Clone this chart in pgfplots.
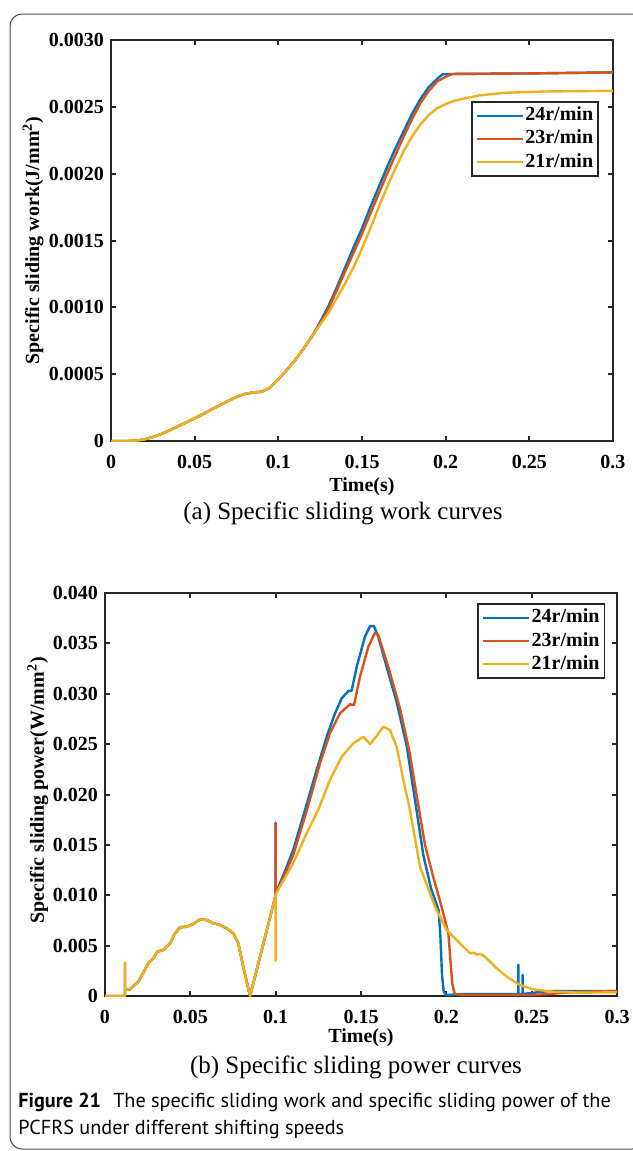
\documentclass[border=0pt]{standalone}
\usepackage{fontspec}
\setmainfont{Liberation Serif}
\newfontfamily\capfont{PT Sans}
\usepackage{pgfplots}
\pgfplotsset{compat=1.18}

\definecolor{c1}{RGB}{0,114,189}
\definecolor{c2}{RGB}{217,83,25}
\definecolor{c3}{RGB}{237,177,32}
\definecolor{axc}{RGB}{38,38,38}

\pgfplotsset{
  myax/.style={
    scale only axis,
    xmin=0, xmax=0.3,
    xtick={0,0.05,0.1,0.15,0.2,0.25,0.3},
    xticklabels={0,0.05,0.1,0.15,0.2,0.25,0.3},
    scaled y ticks=false,
    tick align=inside,
    major tick length=2.5pt,
    axis line style={line width=1pt, color=axc},
    major tick style={line width=1pt, color=axc},
    tick label style={font=\bfseries\fontsize{10}{12}\selectfont, text=black},
    xticklabel style={yshift=-3.5pt},
    xlabel={Time(s)},
    legend cell align=left,
    legend image code/.code={\draw[line width=1.2pt] (0pt,0pt) -- (23pt,0pt);},
    legend style={draw=axc, line width=0.8pt, font=\bfseries\fontsize{10}{12}\selectfont,
      anchor=north east, inner xsep=2pt, inner ysep=2pt, row sep=1.6pt,
      nodes={inner sep=0.5pt, text height=7pt, text depth=2pt}},
    every axis plot/.append style={line width=1.2pt, line join=round},
  }
}

\begin{document}
\begin{tikzpicture}
\useasboundingbox (0,0) rectangle (316pt,-575.5pt);
\draw[rounded corners=6pt, line width=0.5pt, color=black!70] (5pt,-7pt) rectangle (322pt,-574.5pt);

% (a) specific sliding work
\begin{axis}[myax,
  at={(55.5pt,-220.5pt)}, anchor=south west,
  width=251pt, height=200.5pt,
  ymin=0, ymax=0.003,
  ytick={0,0.0005,0.001,0.0015,0.002,0.0025,0.003},
  yticklabels={0,0.0005,0.0010,0.0015,0.0020,0.0025,0.0030},
  ylabel={Specific sliding work(J/mm\textsuperscript{2})},
  every axis y label/.style={at={(axis description cs:-0.155,0.5)}, rotate=90, anchor=center,
    font=\bfseries\fontsize{10}{12}\selectfont},
  every axis x label/.style={at={(axis description cs:0.5,-0.115)}, anchor=center,
    font=\bfseries\fontsize{10}{12}\selectfont},
  legend style={at={(0.972,0.848)}},
]
\addplot[c1] coordinates {
(0,0) (0.010,0) (0.015,0.000003) (0.020,0.000012) (0.025,0.00003) (0.030,0.000052)
(0.035,0.00008) (0.040,0.00011) (0.045,0.00014) (0.050,0.00017) (0.055,0.000202)
(0.060,0.000235) (0.065,0.000268) (0.070,0.0003) (0.075,0.00033) (0.080,0.000352)
(0.085,0.000364) (0.090,0.000368) (0.095,0.0004) (0.100,0.000462) (0.105,0.00053)
(0.110,0.000605) (0.115,0.00069) (0.120,0.00078)
(0.125,0.00089) (0.130,0.00101) (0.135,0.00115) (0.140,0.0013) (0.145,0.00145)
(0.150,0.00159) (0.155,0.00175) (0.160,0.0019) (0.165,0.00205) (0.170,0.00219)
(0.175,0.00232) (0.180,0.00245) (0.185,0.00256) (0.190,0.00265) (0.195,0.00271)
(0.198,0.002743) (0.205,0.002746) (0.250,0.00275) (0.300,0.002758)
};
\addlegendentry{24r/min}
\addplot[c2] coordinates {
(0,0) (0.010,0) (0.015,0.000003) (0.020,0.000012) (0.025,0.00003) (0.030,0.000052)
(0.035,0.00008) (0.040,0.00011) (0.045,0.00014) (0.050,0.00017) (0.055,0.000202)
(0.060,0.000235) (0.065,0.000268) (0.070,0.0003) (0.075,0.00033) (0.080,0.000352)
(0.085,0.000364) (0.090,0.000368) (0.095,0.0004) (0.100,0.000462) (0.105,0.00053)
(0.110,0.000605) (0.115,0.00069) (0.120,0.00078)
(0.125,0.00088) (0.130,0.00099) (0.135,0.00113) (0.140,0.00127) (0.145,0.00141)
(0.150,0.00155) (0.155,0.0017) (0.160,0.00185) (0.165,0.002) (0.170,0.00214)
(0.175,0.00228) (0.180,0.00241) (0.185,0.00253) (0.190,0.00262) (0.195,0.00269)
(0.200,0.002725) (0.204,0.002746) (0.250,0.00275) (0.300,0.002758)
};
\addlegendentry{23r/min}
\addplot[c3] coordinates {
(0,0) (0.010,0) (0.015,0.000003) (0.020,0.000012) (0.025,0.00003) (0.030,0.000052)
(0.035,0.00008) (0.040,0.00011) (0.045,0.00014) (0.050,0.00017) (0.055,0.000202)
(0.060,0.000235) (0.065,0.000268) (0.070,0.0003) (0.075,0.00033) (0.080,0.000352)
(0.085,0.000364) (0.090,0.000368) (0.095,0.0004) (0.100,0.000462) (0.105,0.00053)
(0.110,0.000605) (0.115,0.00069) (0.120,0.00078)
(0.125,0.00087) (0.130,0.00096) (0.135,0.00107) (0.140,0.00118) (0.145,0.0013)
(0.150,0.00144) (0.155,0.00159) (0.160,0.00175) (0.165,0.0019) (0.170,0.00204)
(0.175,0.00217) (0.180,0.00228) (0.185,0.00237) (0.190,0.00244) (0.195,0.00249)
(0.200,0.00252) (0.205,0.002545) (0.210,0.00256) (0.220,0.002585) (0.235,0.002605)
(0.260,0.002615) (0.300,0.00262)
};
\addlegendentry{21r/min}
\end{axis}
\node[font=\fontsize{12.5}{15}\selectfont] at (171.5pt,-256.5pt) {(a) Specific sliding work curves};

% (b) specific sliding power
\begin{axis}[myax,
  at={(52.5pt,-498pt)}, anchor=south west,
  width=256pt, height=201.5pt,
  ymin=0, ymax=0.04,
  ytick={0,0.005,0.01,0.015,0.02,0.025,0.03,0.035,0.04},
  yticklabels={0,0.005,0.010,0.015,0.020,0.025,0.030,0.035,0.040},
  ylabel={Specific sliding power(W/mm\textsuperscript{2})},
  every axis y label/.style={at={(axis description cs:-0.131,0.51)}, rotate=90, anchor=center,
    font=\bfseries\fontsize{10}{12}\selectfont},
  every axis x label/.style={at={(axis description cs:0.5,-0.104)}, anchor=center,
    font=\bfseries\fontsize{10}{12}\selectfont},
  legend style={at={(0.977,0.975)}},
]
\addplot[c1] coordinates {
(0,0) (0.0117,0) (0.0117,0.0033) (0.0117,0.0006) (0.0146,0.00066) (0.0195,0.00142)
(0.0254,0.00324) (0.0283,0.00374) (0.0307,0.0044) (0.0342,0.00457) (0.0381,0.00523)
(0.041,0.00622) (0.044,0.00682) (0.0479,0.00688) (0.0518,0.00715) (0.0557,0.00761)
(0.0596,0.00754) (0.0635,0.00722) (0.0674,0.00705) (0.0713,0.00672) (0.0752,0.00622)
(0.0781,0.00523) (0.081,0.00291) (0.085,0) (0.1,0.0100)
(0.1,0.0172) (0.1,0.0102) (0.105,0.0122) (0.1103,0.0145) (0.1172,0.01846)
(0.124,0.02243) (0.1299,0.02574) (0.1348,0.02806) (0.1387,0.02955) (0.1426,0.03027)
(0.1445,0.0303) (0.1475,0.03268) (0.1523,0.03566) (0.1553,0.03672) (0.1576,0.03672)
(0.1601,0.03566) (0.165,0.03268) (0.1709,0.02918) (0.1768,0.02480) (0.1816,0.0195)
(0.1865,0.0140) (0.191,0.0107) (0.1955,0.0085) (0.1965,0.006) (0.1975,0.002)
(0.1985,0.0004) (0.2,0.0001) (0.21,0.0002) (0.2422,0.0002) (0.2422,0.0031)
(0.2422,0.0002) (0.2447,0.0002) (0.2447,0.0021) (0.2447,0.0002) (0.25,0.0003)
(0.26,0.0005) (0.3,0.0005)
};
\addlegendentry{24r/min}
\addplot[c2] coordinates {
(0,0) (0.0117,0) (0.0117,0.0033) (0.0117,0.0006) (0.0146,0.00066) (0.0195,0.00142)
(0.0254,0.00324) (0.0283,0.00374) (0.0307,0.0044) (0.0342,0.00457) (0.0381,0.00523)
(0.041,0.00622) (0.044,0.00682) (0.0479,0.00688) (0.0518,0.00715) (0.0557,0.00761)
(0.0596,0.00754) (0.0635,0.00722) (0.0674,0.00705) (0.0713,0.00672) (0.0752,0.00622)
(0.0781,0.00523) (0.081,0.00291) (0.085,0) (0.1,0.0100)
(0.1,0.0170) (0.1,0.0101) (0.105,0.0119) (0.1103,0.014) (0.1182,0.0184)
(0.126,0.0231) (0.1318,0.02607) (0.1377,0.02806) (0.1436,0.02895) (0.1459,0.02888)
(0.1494,0.03169) (0.1543,0.03467) (0.1582,0.03606) (0.1601,0.03583) (0.166,0.03268)
(0.1729,0.02851) (0.1787,0.02400) (0.1830,0.0195) (0.1875,0.0150) (0.1923,0.01184)
(0.197,0.009) (0.2012,0.00622) (0.2022,0.004) (0.2035,0.0012) (0.205,0.0002)
(0.21,0.0001) (0.25,0.0001) (0.26,0.0002) (0.275,0.0004) (0.3,0.0005)
};
\addlegendentry{23r/min}
\addplot[c3] coordinates {
(0,0) (0.0117,0) (0.0117,0.0033) (0.0117,0.0006) (0.0146,0.00066) (0.0195,0.00142)
(0.0254,0.00324) (0.0283,0.00374) (0.0307,0.0044) (0.0342,0.00457) (0.0381,0.00523)
(0.041,0.00622) (0.044,0.00682) (0.0479,0.00688) (0.0518,0.00715) (0.0557,0.00761)
(0.0596,0.00754) (0.0635,0.00722) (0.0674,0.00705) (0.0713,0.00672) (0.0752,0.00622)
(0.0781,0.00523) (0.081,0.00291) (0.085,0) (0.1,0.0100)
(0.1,0.0035) (0.1,0.0101) (0.1103,0.0132) (0.118,0.0161) (0.125,0.0185)
(0.1318,0.02144) (0.1387,0.02375) (0.1455,0.02508) (0.1514,0.02574) (0.1553,0.02501)
(0.1592,0.02581) (0.1631,0.02673) (0.167,0.0264) (0.1709,0.02474) (0.1748,0.02144)
(0.1787,0.01846) (0.1846,0.01283) (0.1934,0.00886) (0.2002,0.00655) (0.208,0.00523)
(0.2139,0.00424) (0.216,0.0043) (0.218,0.0041) (0.2197,0.00418) (0.2215,0.00405)
(0.2236,0.00374) (0.2295,0.00275) (0.2354,0.00192) (0.2432,0.00109) (0.251,0.00066)
(0.2627,0.00043) (0.2783,0.00033) (0.3,0.00037)
};
\addlegendentry{21r/min}
\end{axis}
\node[font=\fontsize{12.5}{15}\selectfont] at (178pt,-533.5pt) {(b) Specific sliding power curves};

\node[anchor=west, inner sep=0pt, font=\capfont\fontsize{10.1}{12}\selectfont] at (9pt,-551pt)
  {\textbf{Figure 21}\hspace{0.6em}The specific sliding work and specific sliding power of the};
\node[anchor=west, inner sep=0pt, font=\capfont\fontsize{10.1}{12}\selectfont] at (9pt,-564.5pt)
  {PCFRS under different shifting speeds};
\end{tikzpicture}
\end{document}
